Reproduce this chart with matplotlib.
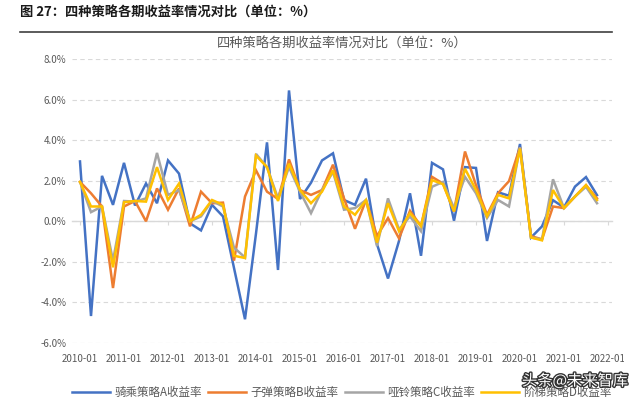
import matplotlib
matplotlib.use('Agg')
import matplotlib.pyplot as plt
import matplotlib.patheffects as pe
from matplotlib.transforms import Bbox, TransformedBbox

plt.rcParams['font.family'] = ['Noto Sans CJK SC', 'DejaVu Sans']

# 季度数据 2010-01 ~ 2021-10
years = [str(y) + '-01' for y in range(2010, 2023)]

a_ret = [2.95, -4.67, 2.24, 0.81, 2.88, 0.78, 1.86, 0.89, 3.0, 2.35,
         -0.1, -0.45, 0.81, 0.24, -2.3, -4.83, -0.6, 3.89, -2.4, 6.45,
         1.1, 1.9, 3.0, 3.35, 1.05, 0.81, 2.1, -1.13, -2.82, -0.97,
         1.38, -1.7, 2.88, 2.56, 0.03, 2.67, 2.63, -0.97, 1.43, 1.26,
         3.81, -0.8, -0.25, 1.04, 0.68, 1.71, 2.18, 1.29]
b_ret = [1.94, 1.38, 0.73, -3.29, 0.73, 1.0, 0.0, 1.62, 0.57, 1.62,
         -0.25, 1.46, 0.89, 0.92, -1.94, 1.22, 2.51, 1.46, 1.1, 3.05,
         1.54, 1.3, 1.54, 2.79, 1.13, -0.37, 1.05, -0.73, 0.16, -0.84,
         0.52, -0.24, 2.19, 1.86, 0.49, 3.44, 1.78, 0.32, 1.38, 1.98,
         3.65, -0.73, -0.89, 0.73, 0.65, 1.22, 1.78, 1.13]
c_ret = [1.94, 0.45, 0.73, -1.94, 1.0, 0.97, 1.13, 3.37, 1.3, 1.54,
         0.0, 0.24, 1.0, 0.73, -1.3, -1.78, 3.32, 2.67, 1.13, 2.67,
         1.46, 0.4, 1.54, 2.43, 0.57, 0.65, 1.05, -1.22, 1.13, -0.4,
         0.24, -0.49, 1.7, 1.94, 0.65, 2.19, 1.38, 0.16, 1.05, 0.73,
         3.65, -0.8, -0.89, 2.07, 0.65, 1.22, 1.7, 0.89]
d_ret = [1.94, 0.73, 0.73, -2.27, 0.94, 1.0, 0.97, 2.67, 1.05, 1.86,
         0.0, 0.32, 1.05, 0.81, -1.7, -1.81, 3.24, 2.67, 1.0, 2.84,
         1.54, 0.89, 1.46, 2.51, 0.73, 0.32, 1.05, -1.05, 0.89, -0.49,
         0.4, -0.24, 2.03, 1.83, 0.49, 2.59, 1.54, 0.24, 1.3, 1.13,
         3.58, -0.8, -0.94, 1.54, 0.65, 1.22, 1.78, 1.05]

names = ['骑乘策略A收益率', '子弹策略B收益率', '哑铃策略C收益率', '阶梯策略D收益率']
colors = ['#4472C4', '#ED7D31', '#A5A5A5', '#FFC000']

fig = plt.figure(figsize=(6.4, 3.99), dpi=100)
ax = fig.add_axes([72/640, 1-343/399, 540/640, 284/399])

x = list(range(len(a_ret)))
for ser, nm, c in zip([a_ret, b_ret, c_ret, d_ret], names, colors):
    ax.plot(x, ser, color=c, lw=1.8, label=nm, solid_joinstyle='miter')

ax.set_ylim(-6, 8)
ax.set_xlim(-8/11, 532/11)
ax.set_yticks(range(-6, 9, 2))
ax.set_yticklabels([f'{v:.1f}%' for v in range(-6, 9, 2)])
ax.set_xticks(range(0, 49, 4))
ax.set_xticklabels(years)
ax.tick_params(axis='both', length=0, labelsize=7, labelcolor='#595959', pad=4)
ax.tick_params(axis='x', pad=8)
ax.grid(axis='y', color='#D9D9D9', linestyle=(0, (4, 3)), lw=0.8)
ax.set_axisbelow(True)
for s in ax.spines.values():
    s.set_visible(False)

# 图片右侧被裁切
clip = TransformedBbox(Bbox([[0, 0], [624/640, 1]]), fig.transFigure)
last = ax.get_xticklabels()[-1]
last.set_clip_on(True)
last.set_clip_box(clip)

# 零轴
zero = ax.secondary_xaxis(6/14)
zero.set_xticks(range(0, 49, 4))
zero.set_xticklabels([])
zero.tick_params(length=3, color='#D9D9D9', direction='out')
zero.spines['bottom'].set_color('#D9D9D9')
zero.spines['bottom'].set_linewidth(1)

ax.set_title('四种策略各期收益率情况对比（单位：%）', fontsize=9.5, color='#595959', pad=8)

ax.legend(loc='upper center', bbox_to_anchor=(0.5, -0.115), ncol=4, frameon=False,
          fontsize=8.3, labelcolor='#595959', handlelength=3.3, columnspacing=0.5,
          handletextpad=0.4)

fig.text(20/640, 1-13/399, '图 27：四种策略各期收益率情况对比（单位：%）', fontsize=9.5,
         fontweight='bold', va='center', ha='left', color='#1a1a1a')
fig.add_artist(plt.Line2D([20/640, 612/640], [1-32/399, 1-32/399], color='#404040', lw=1.2))

fig.text(628/640, 1-381/399, '头条@未来智库', fontsize=11, ha='right', va='center', color='white',
         path_effects=[pe.withStroke(linewidth=2, foreground='#333333')])

fig.savefig('out.png', dpi=100)
